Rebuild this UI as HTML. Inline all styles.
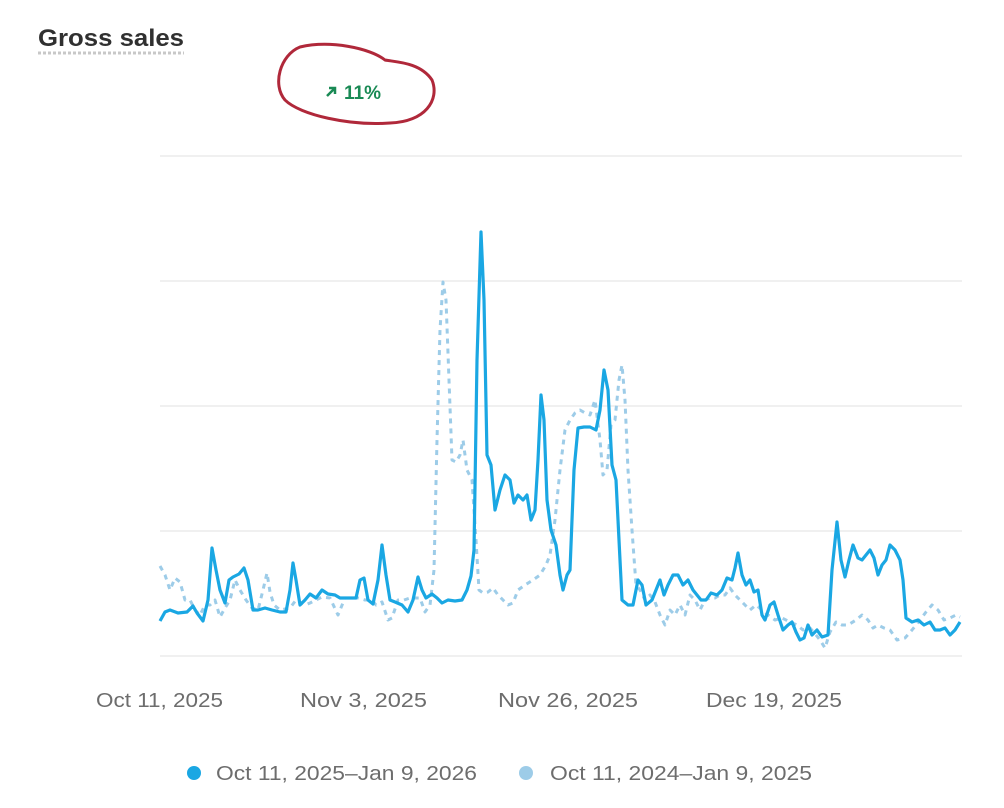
<!DOCTYPE html>
<html><head><meta charset="utf-8"><style>
body{margin:0;background:#fff;font-family:"Liberation Sans",sans-serif;}
</style></head><body>
<svg width="1004" height="808" xmlns="http://www.w3.org/2000/svg" style="display:block">
<text x="38" y="46" font-size="24" font-weight="bold" fill="#303030" textLength="146" lengthAdjust="spacingAndGlyphs" font-family="Liberation Sans, sans-serif">Gross sales</text>
<line x1="38" y1="53" x2="184" y2="53" stroke="#c8c8c8" stroke-width="3" stroke-dasharray="3,2"/>
<path d="M300,47 C330,40 370,48 385,60 C395,62 420,62 432,80 C440,100 425,122 390,123 C350,126 300,115 285,100 C272,85 280,55 300,47 Z" fill="none" stroke="#b0283a" stroke-width="3"/>
<path d="M327,96 L335,88 M329,88 L335,88 L335,94" stroke="#1a8a55" stroke-width="2.5" fill="none"/>
<text x="344" y="99" font-size="19" font-weight="bold" fill="#1a8a55" font-family="Liberation Sans, sans-serif">11%</text>
<g stroke="#ececec" stroke-width="1.5">
<line x1="160" y1="156" x2="962" y2="156"/><line x1="160" y1="281" x2="962" y2="281"/><line x1="160" y1="406" x2="962" y2="406"/><line x1="160" y1="531" x2="962" y2="531"/><line x1="160" y1="656" x2="962" y2="656"/>
</g>
<polyline fill="none" stroke="#9dcce8" stroke-width="3" stroke-dasharray="5,5" stroke-linejoin="round" points="160,566 165,575 170,590 175,578 180,582 185,600 190,600 195,610 200,615 205,605 210,605 215,600 220,617 225,608 230,600 235,580 240,590 246,600 252,608 258,610 263,590 267,573 270,592 274,605 280,610 290,608 296,600 305,605 310,603 316,600 322,597 330,598 338,615 345,598 352,598 358,598 365,600 372,600 376,605 382,602 388,620 392,618 398,600 404,600 410,598 415,598 420,598 425,612 430,605 434,570 437,440 440,330 443,282 446,300 449,380 452,460 456,462 460,455 463,440 467,470 472,480 476,540 479,590 483,593 488,592 493,588 498,595 503,600 508,605 513,603 518,590 525,585 533,580 540,575 546,565 550,555 555,520 560,470 565,430 570,420 575,413 580,410 585,413 590,415 595,400 600,440 603,475 607,470 611,425 615,420 619,380 622,365 625,400 628,470 632,530 636,585 640,590 645,600 650,595 655,602 660,615 665,625 670,610 675,615 680,605 685,615 690,595 695,600 700,610 705,600 710,598 715,598 720,595 725,595 730,588 735,595 740,600 745,605 750,610 756,605 762,610 768,615 775,620 782,618 790,622 797,625 803,630 810,628 816,635 820,640 825,648 830,632 836,622 842,625 848,625 856,620 862,615 868,620 873,628 878,625 884,628 890,630 897,640 905,638 912,630 920,620 926,612 932,605 938,610 944,620 950,618 956,615 960,617"/>
<polyline fill="none" stroke="#1aa7e3" stroke-width="3.2" stroke-linejoin="round" points="160,621 165,612 170,610 178,613 187,612 193,606 197,613 203,621 208,600 212,548 216,570 220,590 225,603 229,580 233,577 239,574 244,568 248,580 253,610 258,610 265,608 272,610 280,612 286,612 290,590 293,563 296,580 300,605 305,600 310,594 316,598 322,590 328,594 335,595 340,598 350,598 356,598 360,580 364,578 368,600 373,604 378,580 382,545 386,575 390,600 395,602 402,605 408,612 413,600 418,577 422,590 426,598 432,594 437,598 442,603 448,600 455,601 462,600 467,590 471,576 474,550 477,360 481,232 484,300 487,455 491,465 495,510 500,490 505,475 510,480 514,503 518,495 523,500 527,495 531,520 535,510 538,460 541,395 544,420 547,500 551,530 556,545 560,575 563,590 567,575 570,570 574,470 578,428 584,427 590,427 596,430 600,410 604,370 608,390 612,465 616,480 620,560 622,600 628,605 633,605 638,580 642,585 646,605 652,600 656,590 660,580 664,595 668,585 673,575 678,575 683,585 688,580 693,590 697,595 701,600 706,600 711,593 717,595 722,590 727,578 732,580 735,568 738,553 742,575 746,585 750,580 754,592 758,590 762,615 765,620 770,605 774,602 778,615 783,630 788,625 792,622 796,632 800,640 804,638 808,625 812,635 817,630 822,637 828,635 832,570 837,522 841,560 845,577 849,560 853,545 858,558 862,560 866,555 870,550 874,558 878,575 882,565 886,560 890,545 895,550 900,560 903,580 906,618 912,622 918,620 924,625 930,622 935,630 940,630 945,628 950,635 955,630 960,622"/>
<g font-size="20" fill="#6d6d6d" font-family="Liberation Sans, sans-serif">
<text x="96" y="707" textLength="127" lengthAdjust="spacingAndGlyphs">Oct 11, 2025</text>
<text x="300" y="707" textLength="127" lengthAdjust="spacingAndGlyphs">Nov 3, 2025</text>
<text x="498" y="707" textLength="140" lengthAdjust="spacingAndGlyphs">Nov 26, 2025</text>
<text x="706" y="707" textLength="136" lengthAdjust="spacingAndGlyphs">Dec 19, 2025</text>
</g>
<circle cx="194" cy="773" r="7" fill="#1aa7e3"/>
<circle cx="526" cy="773" r="7" fill="#9dcce8"/>
<g font-size="20" fill="#6d6d6d" font-family="Liberation Sans, sans-serif">
<text x="216" y="780" textLength="261" lengthAdjust="spacingAndGlyphs">Oct 11, 2025–Jan 9, 2026</text>
<text x="550" y="780" textLength="262" lengthAdjust="spacingAndGlyphs">Oct 11, 2024–Jan 9, 2025</text>
</g>
</svg>
</body></html>
